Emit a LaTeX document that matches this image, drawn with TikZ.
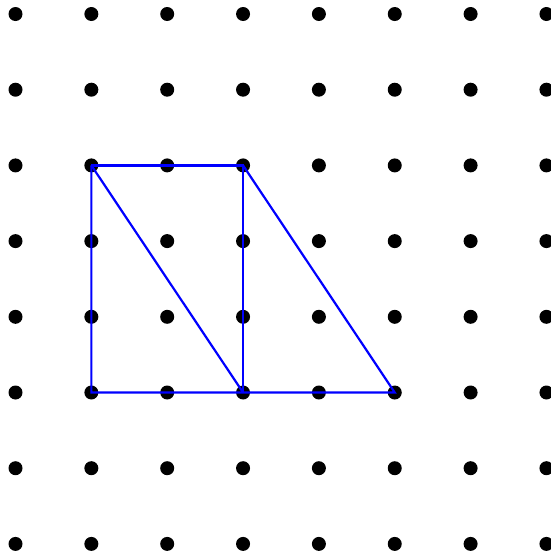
\documentclass[tikz,border=0pt]{standalone}
\begin{document}
\begin{tikzpicture}[x=1pt,y=-1pt,
  dotnode/.style={circle,fill=black,inner sep=0pt,minimum size=14pt},
  edge/.style={blue,line width=2.2pt}]
\useasboundingbox[fill=white] (0,0) rectangle (551,558);
\foreach \i in {0,...,7}{
  \foreach \j in {0,...,7}{
    \node[dotnode] (d-\i-\j) at ({15.5+75.85*\i},{14+75.7*\j}) {};
  }
}
\draw[edge] (d-1-2.center) -- (d-3-2.center) -- (d-3-5.center);
\draw[edge] (d-1-2.center) -- (d-1-5.center) -- (d-5-5.center) -- (d-3-2.center);
\draw[edge] (d-1-2.center) -- (d-3-5.center);
\end{tikzpicture}
\end{document}
